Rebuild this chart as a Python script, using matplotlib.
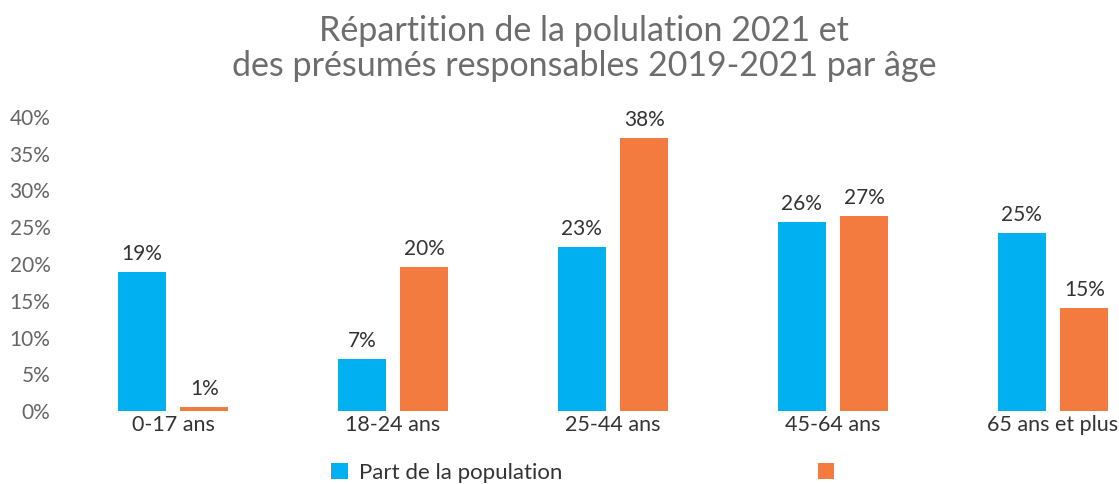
import matplotlib.pyplot as plt
import numpy as np

plt.rcParams['font.family'] = ['Lato', 'DejaVu Sans']

# data
categories = ['0-17 ans', '18-24 ans', '25-44 ans', '45-64 ans', '65 ans et plus']
population = [18.9, 7.1, 22.3, 25.7, 24.2]
suspects = [0.5, 19.6, 37.1, 26.5, 14.0]
population_labels = ['19%', '7%', '23%', '26%', '25%']
suspects_labels = ['1%', '20%', '38%', '27%', '15%']
yticks = [0, 5, 10, 15, 20, 25, 30, 35, 40]

blue = '#00B0F0'
orange = '#F47B3F'

fig = plt.figure(figsize=(11.19, 4.84), dpi=100)
ax = fig.add_axes([63 / 1119, 73 / 484, (1119 - 63) / 1119, 294 / 484])

x = np.arange(len(categories))
w = 0.22
off = 0.142
b1 = ax.bar(x - off, population, w, color=blue, label='Part de la population')
b2 = ax.bar(x + off, suspects, w, color=orange, label='')

for xi, v, t in zip(x - off, population, population_labels):
    ax.text(xi, v + 1.1, t, ha='center', va='bottom', fontsize=15, color='#333333')
for xi, v, t in zip(x + off, suspects, suspects_labels):
    ax.text(xi, v + 1.1, t, ha='center', va='bottom', fontsize=15, color='#333333', clip_on=False)

ax.set_xlim(-0.5, 4.3)
ax.set_ylim(0, 40)
ax.set_yticks(yticks)
ax.set_yticklabels([f'{t}%' for t in yticks], fontsize=15, color='#666666')
ax.set_xticks(x)
ax.set_xticklabels(categories, fontsize=15.5, color='#333333')
ax.tick_params(length=0, pad=3)
ax.tick_params(axis='y', pad=9)
for s in ax.spines.values():
    s.set_visible(False)

fig.text(0.522, 0.968, 'Répartition de la polulation 2021 et\ndes présumés responsables 2019-2021 par âge',
         ha='center', va='top', fontsize=24.5, color='#6d6d6d', linespacing=1.1)

fig.legend([b1, b2], ['Part de la population', ''], loc='center left',
           bbox_to_anchor=(311 / 1119, 1 - 473 / 484), ncol=2, frameon=False,
           fontsize=16, handlelength=0.75, handleheight=0.75, handletextpad=0.5,
           columnspacing=11.5, labelcolor='#333333')

fig.savefig('out.png', dpi=100)
